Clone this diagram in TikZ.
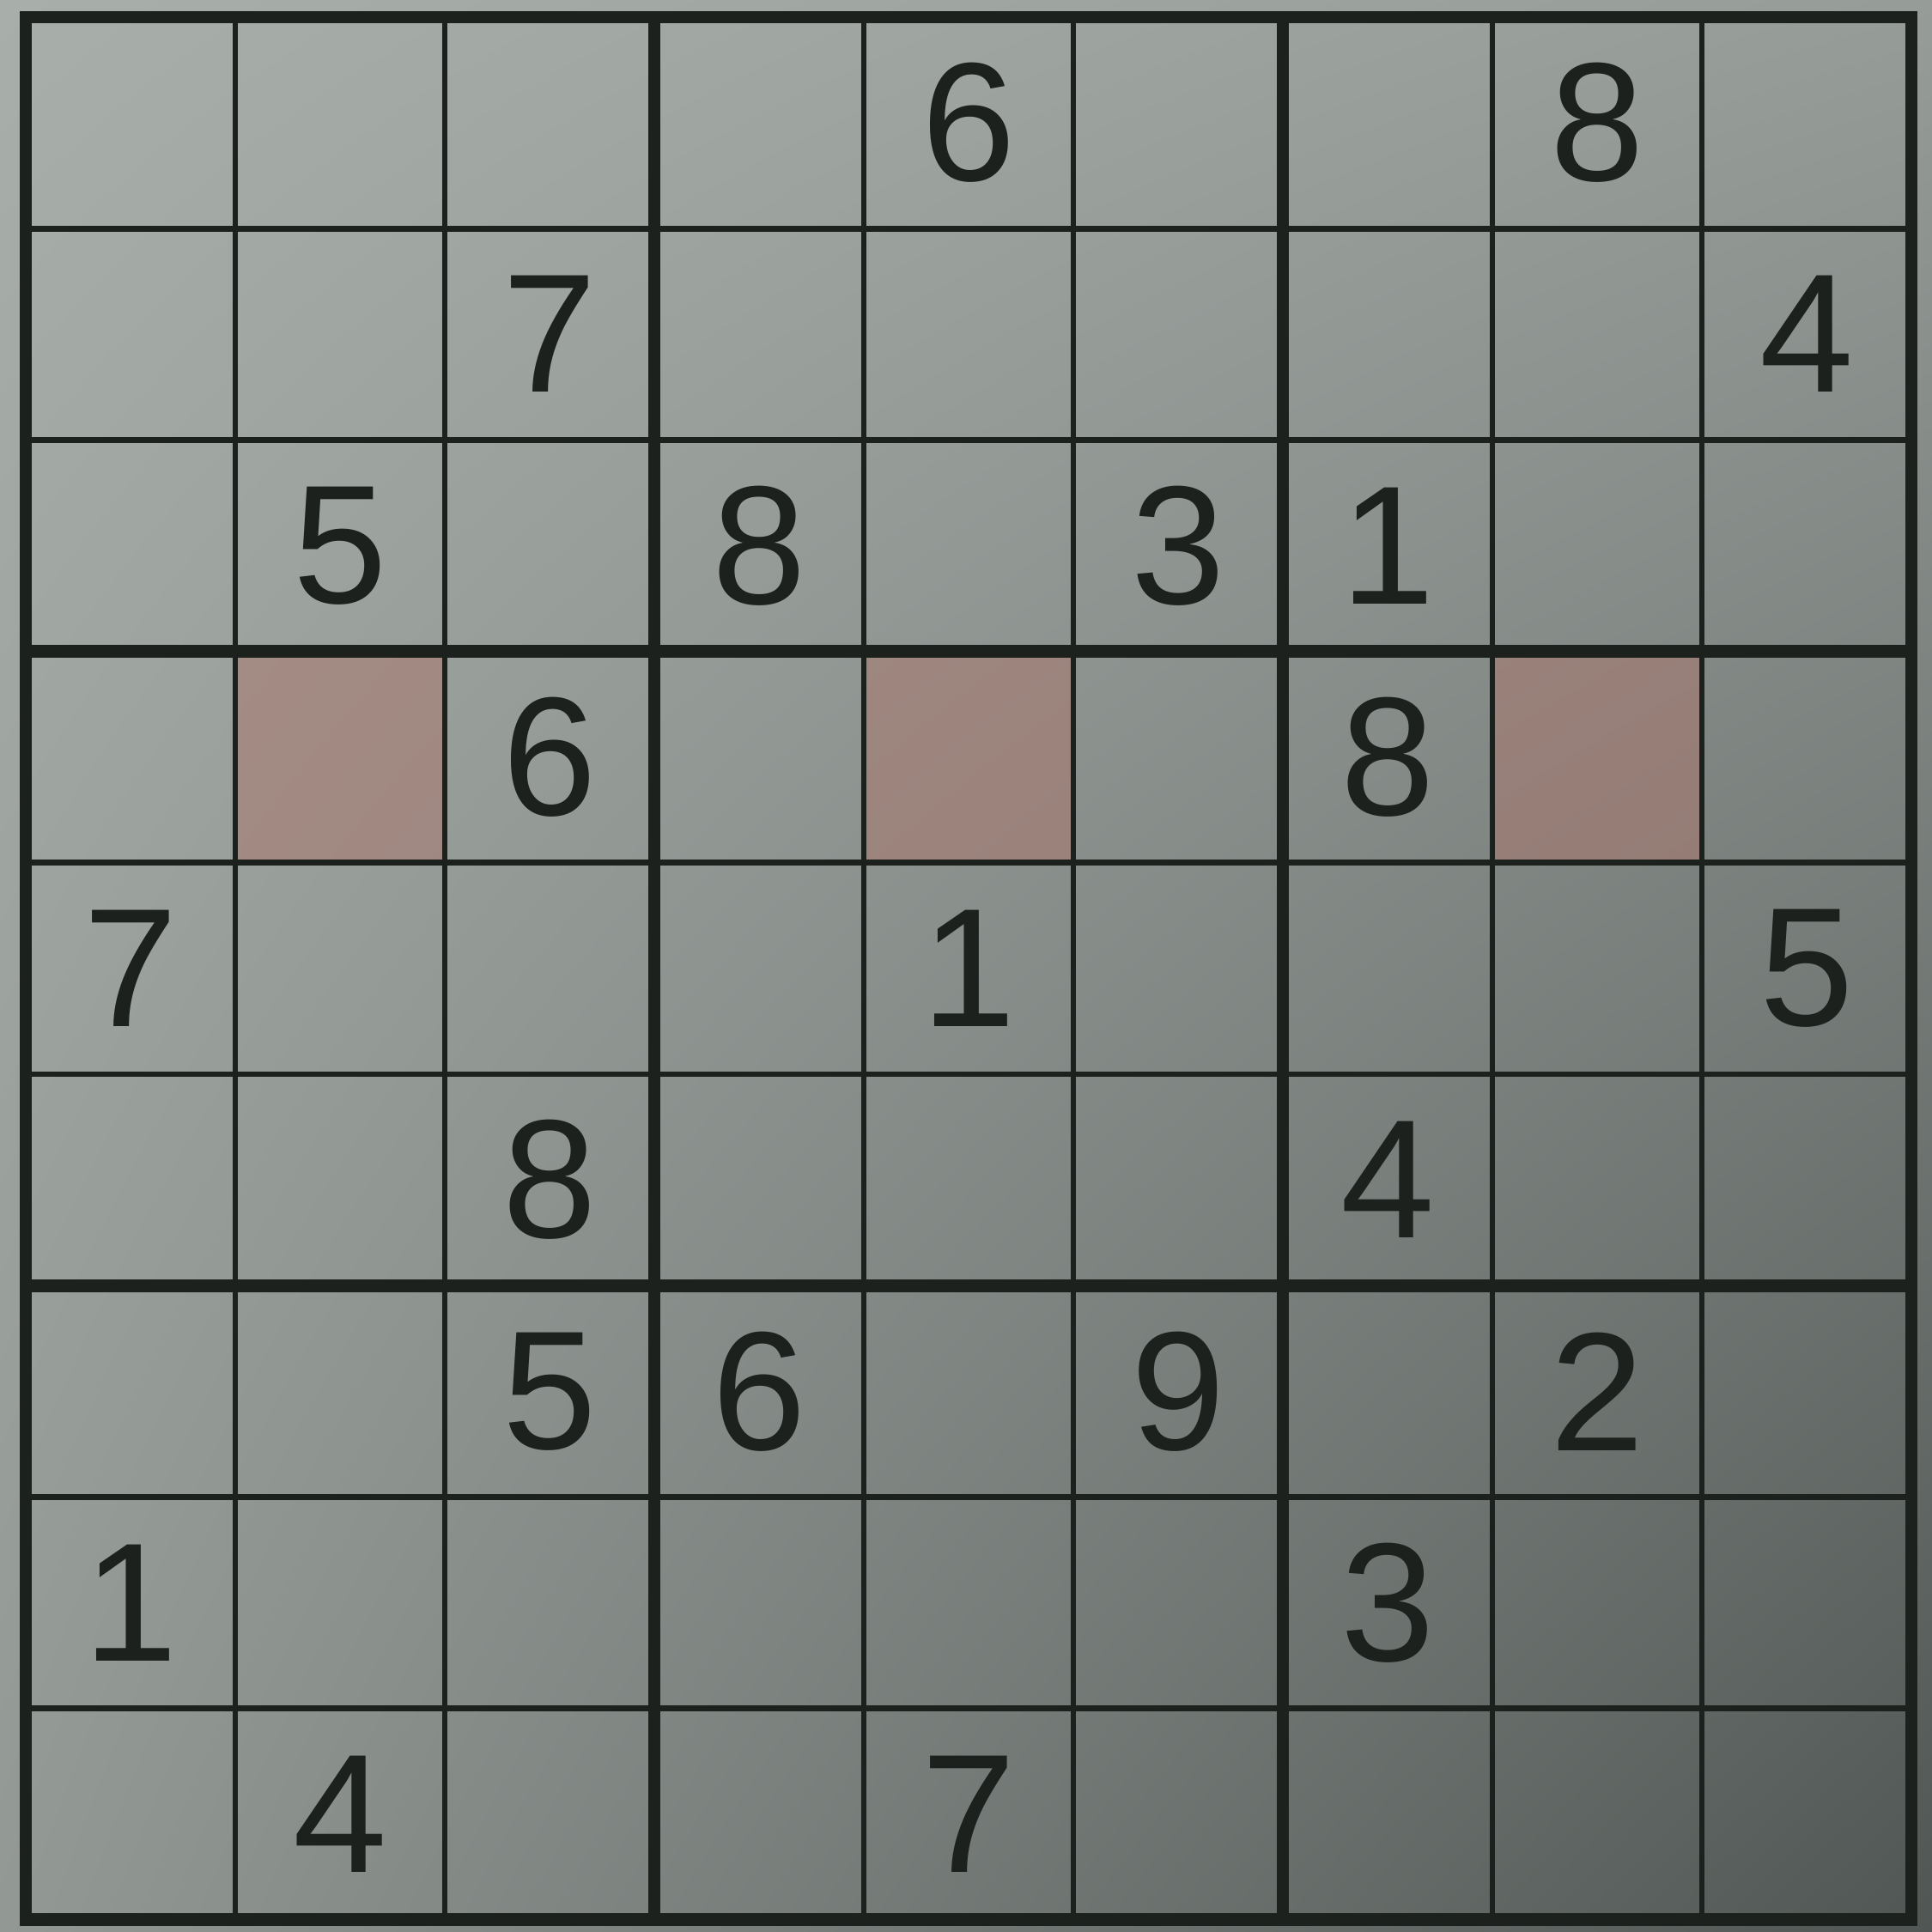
\documentclass[tikz,border=0pt]{standalone}
\usepackage{fontspec}
\setmainfont{Liberation Sans}
\usetikzlibrary{shadings}
\definecolor{linie}{RGB}{28,33,30}
\definecolor{rosa}{RGB}{170,122,112}
\definecolor{papierOL}{RGB}{168,174,170}
\definecolor{papierOR}{RGB}{150,156,152}
\definecolor{papierUL}{RGB}{146,152,148}
\definecolor{papierUR}{RGB}{80,86,83}
\tikzset{
  ziffer/.style={inner sep=0pt, font=\fontsize{56}{60}\selectfont, text=linie},
  markiert/.style={fill=rosa, fill opacity=0.55},
  duenn/.style={draw=linie, line width=1.9pt},
  dick/.style={draw=linie, line width=4.2pt, line cap=rect},
}

\begin{document}
\begin{tikzpicture}
  \useasboundingbox (0,0) rectangle (22.5,-22.5);

  % Hintergrund (Papier)
  \shade[upper left=papierOL, upper right=papierOR, lower left=papierUL, lower right=papierUR]
    (0,0) rectangle (22.5,-22.5);

  \begin{scope}[shift={(0.30,-0.20)}, x=2.44cm, y=-2.462cm]
    % Markierte Felder
    \foreach \c in {1,4,7}
      \fill[markiert] (\c,3) rectangle (\c+1,4);

    % Duenne Linien
    \foreach \i in {1,2,4,5,7,8} {
      \draw[duenn] (\i,0) -- (\i,9);
      \draw[duenn] (0,\i) -- (9,\i);
    }

    % Dicke Linien und Rahmen
    \foreach \i in {3,6} {
      \draw[dick] (\i,0) -- (\i,9);
      \draw[dick] (0,\i) -- (9,\i);
    }
    \draw[dick] (0,0) rectangle (9,9);

    % Ziffern
    \foreach \r/\c/\z in {1/5/6, 1/8/8,
                          2/3/7, 2/9/4,
                          3/2/5, 3/4/8, 3/6/3, 3/7/1,
                          4/3/6, 4/7/8,
                          5/1/7, 5/5/1, 5/9/5,
                          6/3/8, 6/7/4,
                          7/3/5, 7/4/6, 7/6/9, 7/8/2,
                          8/1/1, 8/7/3,
                          9/2/4, 9/5/7}
      \node[ziffer] (z\r\c) at (\c-0.5,\r-0.5) {\z};
  \end{scope}
\end{tikzpicture}
\end{document}
